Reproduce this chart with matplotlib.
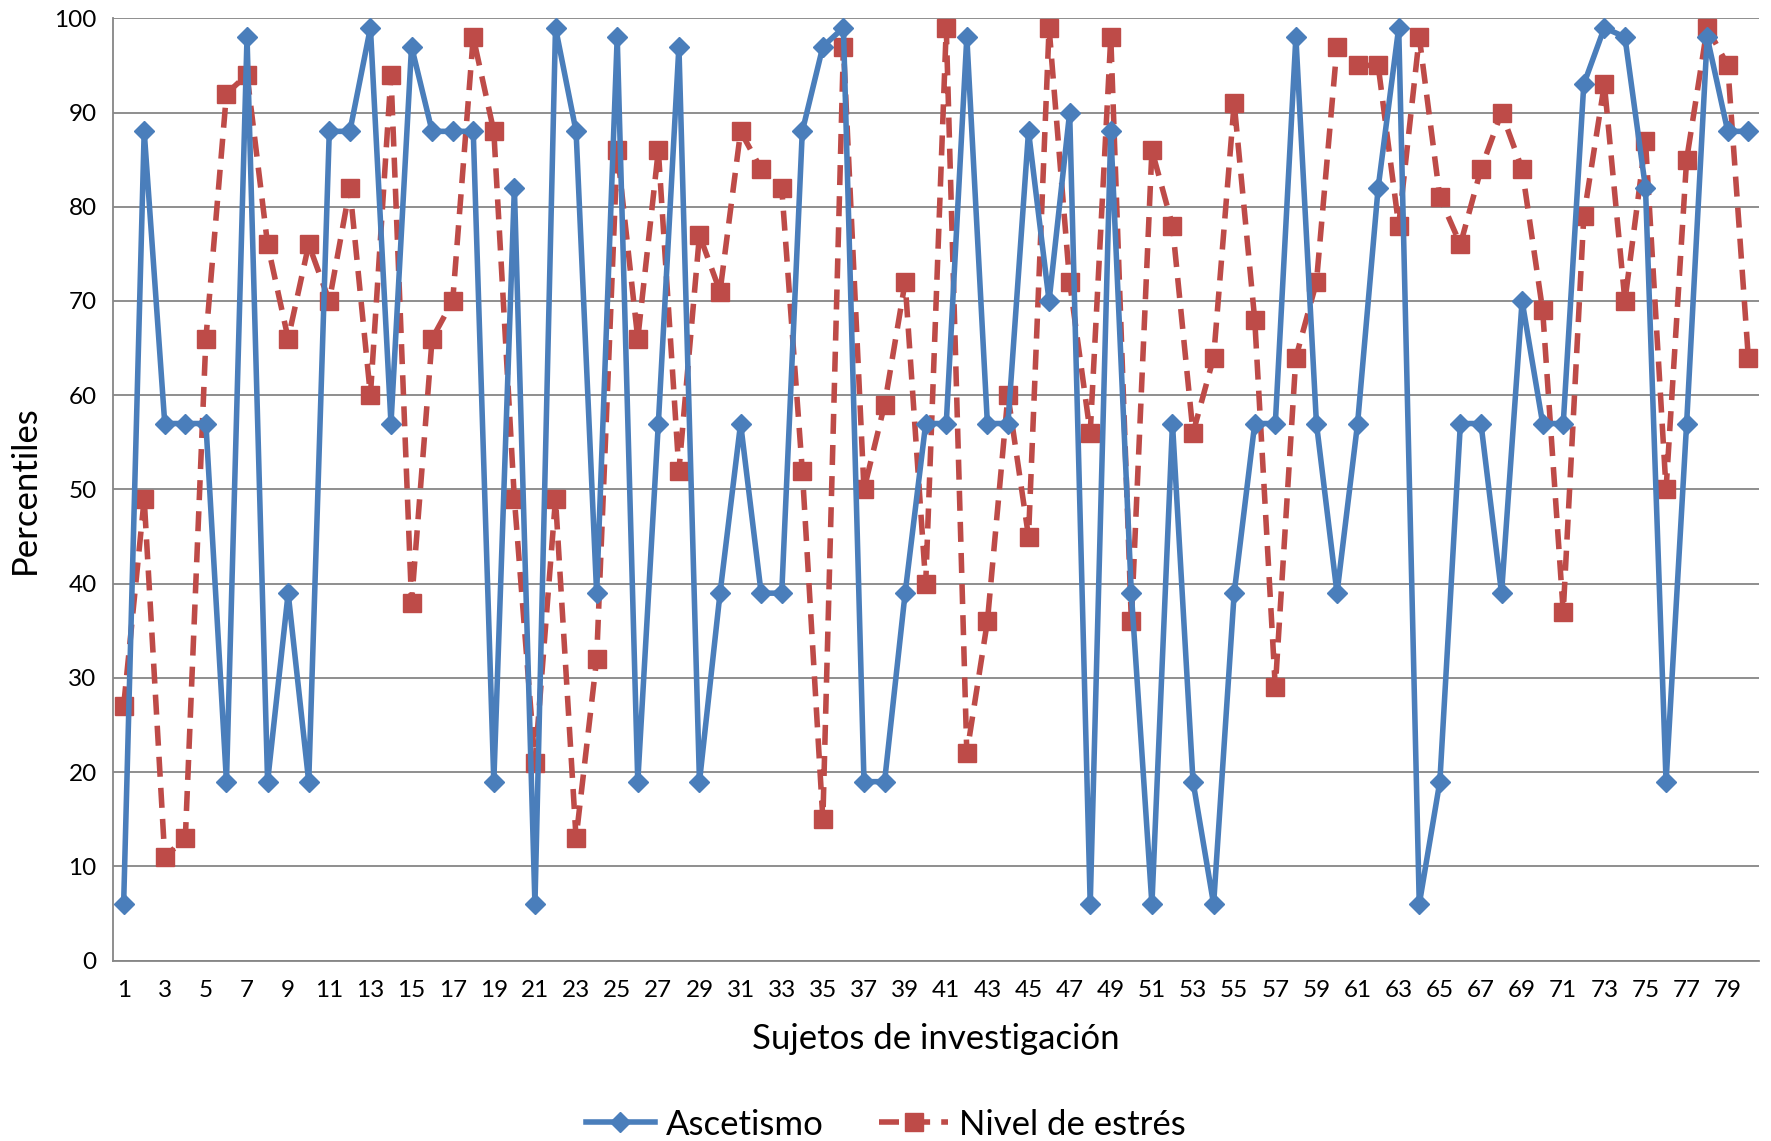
import numpy as np
import matplotlib
matplotlib.use("Agg")
import matplotlib.pyplot as plt

plt.rcParams['font.family'] = ['Lato', 'DejaVu Sans']

sujetos = np.arange(1, 81)

ascetismo = [6, 88, 57, 57, 57, 19, 98, 19, 39, 19,
             88, 88, 99, 57, 97, 88, 88, 88, 19, 82,
             6, 99, 88, 39, 98, 19, 57, 97, 19, 39,
             57, 39, 39, 88, 97, 99, 19, 19, 39, 57,
             57, 98, 57, 57, 88, 70, 90, 6, 88, 39,
             6, 57, 19, 6, 39, 57, 57, 98, 57, 39,
             57, 82, 99, 6, 19, 57, 57, 39, 70, 57,
             57, 93, 99, 98, 82, 19, 57, 98, 88, 88]

estres = [27, 49, 11, 13, 66, 92, 94, 76, 66, 76,
          70, 82, 60, 94, 38, 66, 70, 98, 88, 49,
          21, 49, 13, 32, 86, 66, 86, 52, 77, 71,
          88, 84, 82, 52, 15, 97, 50, 59, 72, 40,
          99, 22, 36, 60, 45, 99, 72, 56, 98, 36,
          86, 78, 56, 64, 91, 68, 29, 64, 72, 97,
          95, 95, 78, 98, 81, 76, 84, 90, 84, 69,
          37, 79, 93, 70, 87, 50, 85, 99, 95, 64]

azul = '#4A7EBB'
rojo = '#BE4B48'
gris = '#868686'

fig = plt.figure(figsize=(17.71, 11.41), dpi=100)
ax = fig.add_axes([0.064, 0.158, 0.929, 0.826])

ax.plot(sujetos, ascetismo, color=azul, lw=4, marker='D', ms=10,
        markeredgecolor=azul, label='Ascetismo', zorder=3)
ax.plot(sujetos, estres, color=rojo, lw=4, marker='s', ms=13,
        markeredgecolor=rojo, dashes=(3.6, 2), label='Nivel de estrés', zorder=2)

ax.set_xlim(0.5, 80.5)
ax.set_ylim(0, 100)
ax.set_yticks(np.arange(0, 101, 10))
ax.set_xticks(sujetos[::2])
ax.tick_params(axis='x', length=0, labelsize=17.5, pad=14)
ax.tick_params(axis='y', length=0, labelsize=17.5, pad=12)
ax.yaxis.grid(True, color=gris, lw=1.3)
ax.set_axisbelow(True)
for s in ['top', 'right']:
    ax.spines[s].set_visible(False)
for s in ['left', 'bottom']:
    ax.spines[s].set_color(gris)
    ax.spines[s].set_linewidth(1.3)

ax.set_xlabel('Sujetos de investigación', fontsize=25, labelpad=16)
ax.set_ylabel('Percentiles', fontsize=25, labelpad=10)

fig.legend(loc='lower center', bbox_to_anchor=(0.5, -0.027), ncol=2, frameon=False,
           fontsize=25, handlelength=2.0, columnspacing=1.6, handletextpad=0.3)

fig.savefig('out.png', dpi=100)
